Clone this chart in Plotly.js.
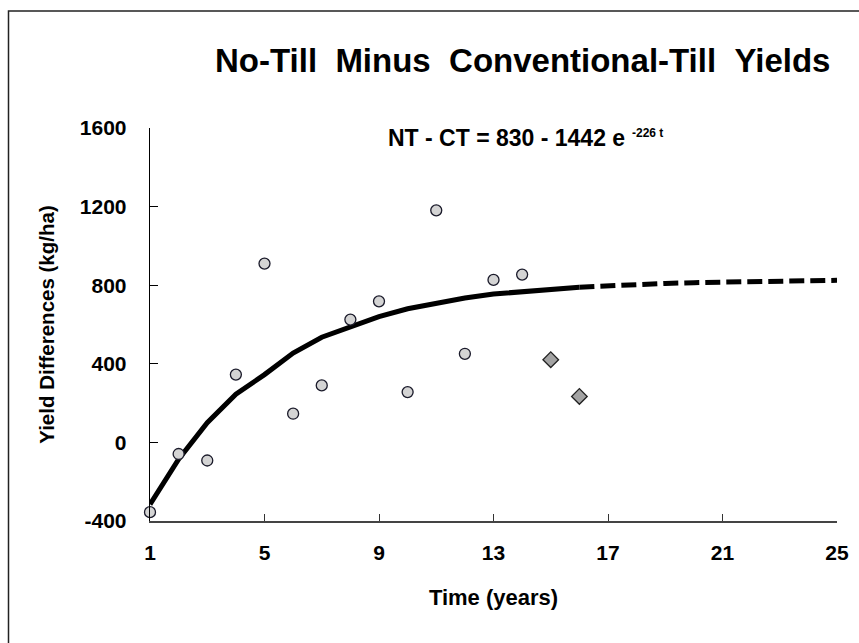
<!DOCTYPE html>
<html>
<head>
<meta charset="utf-8">
<script src="https://cdn.plot.ly/plotly-3.0.1.min.js"></script>
<style>
html,body{margin:0;padding:0;background:#fff;}
#chart{width:859px;height:643px;}
</style>
</head>
<body>
<div id="chart"></div>
<script>
// Observed yield differences (NT - CT, kg/ha) by year
const yearsObs = [1,2,3,4,5,6,7,8,9,10,11,12,13,14];
const diffObs  = [-355,-59,-92,345,910,146,290,625,718,256,1181,451,827,854];
// Later years (diamond markers)
const yearsLate = [15,16];
const diffLate  = [421,234];
// Fitted curve (solid part)
const yearsFit = [1,2,3,4,5,6,7,8,9,10,11,12,13,14,15,16];
const diffFit  = [-315,-85,100,245,345,455,535,590,640,680,710,735,755,768,778,790];
// Projected curve (dashed part)
const yearsProj = [16,17,18,19,20,21,22,23,24,25];
const diffProj  = [790,798,804,809,813,816,819,821,823,825];
const xTicks = [1,5,9,13,17,21,25];
const yTicks = [-400,0,400,800,1200,1600];

const FONT = 'Liberation Sans, Arial, sans-serif';

const traces = [
  {x: yearsFit, y: diffFit, type:'scatter', mode:'lines',
   line:{color:'#000', width:5}, cliponaxis:false, hoverinfo:'skip'},
  {x: yearsProj, y: diffProj, type:'scatter', mode:'lines',
   line:{color:'#000', width:5, dash:'15px,6px'}, cliponaxis:false, hoverinfo:'skip'},
  {x: yearsObs, y: diffObs, type:'scatter', mode:'markers',
   marker:{symbol:'circle', size:11, color:'#d4d4d4', line:{color:'#1a1a2a', width:1.3}},
   cliponaxis:false},
  {x: yearsLate, y: diffLate, type:'scatter', mode:'markers',
   marker:{symbol:'diamond', size:12, color:'#a3a3a3', line:{color:'#222', width:1.3}},
   cliponaxis:false}
];

const layout = {
  width:859, height:643,
  margin:{l:150, r:22, t:128, b:122, pad:0},
  paper_bgcolor:'#fff', plot_bgcolor:'#fff',
  showlegend:false,
  font:{family:FONT, color:'#000'},
  xaxis:{
    range:[1,25], tickvals:xTicks, ticktext:xTicks.map(String),
    ticks:'inside', ticklen:7, tickwidth:1, tickcolor:'#333',
    showline:true, linecolor:'#444', linewidth:2,
    showgrid:false, zeroline:false,
    tickfont:{family:FONT, size:21, color:'#000', weight:'bold'},
    ticklabelstandoff:12,
    title:{text:'<b>Time (years)</b>', font:{family:FONT, size:22, color:'#000'}, standoff:26}
  },
  yaxis:{
    range:[-400,1600], tickvals:yTicks, ticktext:yTicks.map(String),
    ticks:'inside', ticklen:8, tickwidth:1, tickcolor:'#000',
    showline:true, linecolor:'#000', linewidth:1.3,
    showgrid:false, zeroline:false,
    tickfont:{family:FONT, size:21, color:'#000', weight:'bold'},
    ticklabelstandoff:18,
    title:{text:'<b>Yield Differences (kg/ha)</b>', font:{family:FONT, size:20.5, color:'#000'}, standoff:19}
  },
  annotations:[
    {xref:'paper', yref:'paper', x:0.542, y:(521-61)/393, xanchor:'center', yanchor:'middle',
     text:'<b>No-Till\u00a0\u00a0Minus\u00a0\u00a0Conventional-Till\u00a0\u00a0Yields</b>',
     showarrow:false, font:{family:FONT, size:33, color:'#000'}},
    {xref:'paper', yref:'paper', x:(627-150)/687, y:(521-138)/393, xanchor:'right', yanchor:'middle',
     text:'<b>NT - CT = 830 - 1442 e</b>',
     showarrow:false, font:{family:FONT, size:23, color:'#000'}},
    {xref:'paper', yref:'paper', x:(630-150)/687, y:(521-133)/393, xanchor:'left', yanchor:'middle',
     text:'<b>-226 t</b>',
     showarrow:false, font:{family:FONT, size:12, color:'#000'}}
  ],
  shapes:[
    {type:'rect', xref:'paper', yref:'paper', x0:(8.5-150)/687, x1:2, y0:-1, y1:(521-11)/393,
     line:{color:'#222', width:1.5}, fillcolor:'rgba(0,0,0,0)', layer:'below'}
  ]
};

Plotly.newPlot('chart', traces, layout, {displayModeBar:false, staticPlot:true});
</script>
</body>
</html>
